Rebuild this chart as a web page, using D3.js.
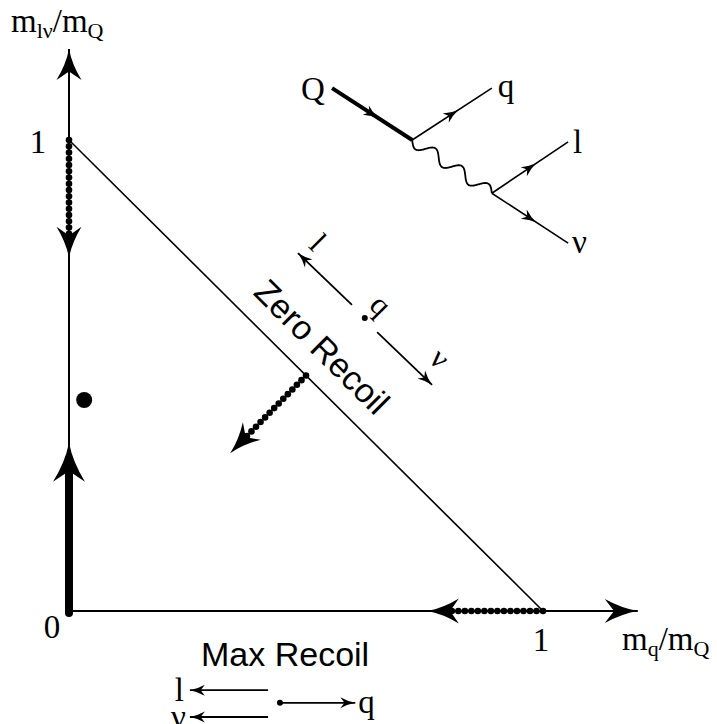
<!DOCTYPE html>
<html>
<head>
<meta charset="utf-8">
<script src="https://cdn.jsdelivr.net/npm/d3@7/dist/d3.min.js"></script>
<style>
body{margin:0;background:#fff}
</style>
</head>
<body>
<svg id="chart" width="717" height="724"></svg>
<script>
// Dalitz-like plane, everything in units of m_Q
var ticks = [0, 1];
var axisMax = [1.2, 1.193];               // arrow tips of the two axes
var edge = [[0, 1], [1, 0]];              // zero recoil line
var heavyArrow = [[0, 0], [0, 0.357]];    // thick arrow up the y axis
var bigDot = [0.032, 0.448];
// dotted chains: start, arrow tip
var chains = [
    [[0, 1], [0, 0.75]],
    [[1, 0], [0.757, 0]],
    [[0.5, 0.5], [0.34, 0.335]]
];
// Feynman graph  Q -> q W,  W -> l nu
var fey = {
    Q: [0.555, 1.110], v1: [0.724, 1.000], q: [0.892, 1.110],
    v2: [0.892, 0.887], l: [1.053, 0.996], nu: [1.053, 0.781]
};
// zero recoil: q at rest, l and nu back to back
var zrDot = [0.624, 0.622];
var zrArrows = [[[0.597, 0.650], [0.483, 0.760]], [[0.650, 0.592], [0.766, 0.480]]];
var zrLabels = [["l", 0.525, 0.783], ["q", 0.658, 0.650], ["ν", 0.783, 0.537]];
// max recoil: l and nu together against q
var mrDot = [0.445, -0.195];
var mrArrows = [[[0.420, -0.168], [0.255, -0.168]], [[0.420, -0.225], [0.255, -0.225]], [[0.445, -0.195], [0.604, -0.195]]];

var svg = d3.select("#chart");
var x = d3.scaleLinear().domain([0, 1]).range([69, 543]);
var y = d3.scaleLinear().domain([0, 1]).range([611, 140]);
var serif = "'Liberation Serif','Times New Roman',serif";
var sans = "'Liberation Sans',Arial,sans-serif";

function P(p) { return [x(p[0]), y(p[1])]; }

// arrow head with concave sides, tip at t, pointing from f to t
function head(f, t, len, wid) {
    var a = Math.atan2(t[1] - f[1], t[0] - f[0]) * 180 / Math.PI;
    var p = "M0,0 Q" + (-len * 0.5) + "," + (-wid * 0.12) + " " + (-len) + "," + (-wid / 2) +
        " L" + (-len * 0.72) + ",0 L" + (-len) + "," + (wid / 2) +
        " Q" + (-len * 0.5) + "," + (wid * 0.12) + " 0,0Z";
    svg.append("path").attr("d", p).attr("fill", "#000")
        .attr("transform", "translate(" + t[0] + "," + t[1] + ") rotate(" + a + ")");
}
function line(a, b, w) {
    svg.append("line").attr("x1", a[0]).attr("y1", a[1]).attr("x2", b[0]).attr("y2", b[1])
        .attr("stroke", "#000").attr("stroke-width", w);
}
// line with arrow in the middle
function midArrow(a, b, w, len, wid) {
    line(a, b, w);
    var dx = b[0] - a[0], dy = b[1] - a[1], d = Math.sqrt(dx * dx + dy * dy);
    var m = [(a[0] + b[0]) / 2 + dx / d * len / 2, (a[1] + b[1]) / 2 + dy / d * len / 2];
    head(a, m, len, wid);
}

// axes
var o = P([0, 0]);
line(o, P([0, axisMax[1]]), 2);
line(o, P([axisMax[0], 0]), 2);
head(o, P([0, axisMax[1]]), 31, 25);
head(o, P([axisMax[0], 0]), 33, 24);

// zero recoil edge
line(P(edge[0]), P(edge[1]), 1.6);

// heavy arrow
var h0 = P(heavyArrow[0]), h1 = P(heavyArrow[1]);
svg.append("line").attr("x1", h0[0]).attr("y1", h0[1] + 2).attr("x2", h1[0]).attr("y2", h1[1] + 30)
    .attr("stroke", "#000").attr("stroke-width", 8).attr("stroke-linecap", "round");
head(h0, h1, 39, 32);

svg.append("circle").attr("cx", x(bigDot[0])).attr("cy", y(bigDot[1])).attr("r", 8).attr("fill", "#000");

// dotted chains
chains.forEach(function (c) {
    var a = P(c[0]), t = P(c[1]);
    var dx = t[0] - a[0], dy = t[1] - a[1], d = Math.sqrt(dx * dx + dy * dy);
    var run = d - 24, n = Math.round(run / 6.3);
    d3.range(n + 1).forEach(function (i) {
        var f = i * run / n / d;
        svg.append("circle").attr("cx", a[0] + dx * f).attr("cy", a[1] + dy * f)
            .attr("r", 3.3).attr("fill", "#000");
    });
    head(a, t, 31, 25);
});

// tick labels
svg.append("text").attr("x", x(0) - 17).attr("y", y(0) + 27).text(ticks[0]);
svg.append("text").attr("x", x(0) - 31).attr("y", y(1) + 13).text(ticks[1]);
svg.append("text").attr("x", x(1) - 2).attr("y", y(0) + 40).text(ticks[1]);
svg.selectAll("text").attr("font-family", serif).attr("font-size", 33).attr("text-anchor", "middle");

// axis titles
var yt = svg.append("text").attr("x", 11).attr("y", 32).attr("font-family", serif).attr("font-size", 33);
yt.append("tspan").text("m");
yt.append("tspan").attr("font-size", 22).attr("dy", 6).text("lν");
yt.append("tspan").attr("dy", -6).text("/m");
yt.append("tspan").attr("font-size", 22).attr("dy", 6).text("Q");
var xt = svg.append("text").attr("x", 622).attr("y", 650).attr("font-family", serif).attr("font-size", 33);
xt.append("tspan").text("m");
xt.append("tspan").attr("font-size", 22).attr("dy", 6).text("q");
xt.append("tspan").attr("dy", -6).text("/m");
xt.append("tspan").attr("font-size", 22).attr("dy", 6).text("Q");

// Feynman graph
var v1 = P(fey.v1), v2 = P(fey.v2);
midArrow(P(fey.Q), v1, 4, 15, 11);
midArrow(v1, P(fey.q), 1.6, 15, 11);
midArrow(v2, P(fey.l), 1.6, 15, 11);
midArrow(v2, P(fey.nu), 1.6, 15, 11);
(function () {
    var dx = v2[0] - v1[0], dy = v2[1] - v1[1], d = Math.sqrt(dx * dx + dy * dy);
    var nx = -dy / d, ny = dx / d;
    var pts = d3.range(0, 201).map(function (i) {
        var f = i / 200, s = 6 * Math.sin(f * Math.PI * 2 * 3);
        return [v1[0] + dx * f + nx * s, v1[1] + dy * f + ny * s];
    });
    svg.append("path").attr("d", d3.line().curve(d3.curveBasis)(pts)).attr("fill", "none")
        .attr("stroke", "#000").attr("stroke-width", 1.8);
})();
function label(t, px, py, anchor) {
    svg.append("text").attr("x", px).attr("y", py).attr("text-anchor", anchor || "start")
        .attr("font-family", serif).attr("font-size", 33).text(t);
}
label("Q", x(fey.Q[0]) - 31, y(fey.Q[1]) + 12);
label("q", x(fey.q[0]) + 6, y(fey.q[1]) + 9);
label("l", x(fey.l[0]) + 5, y(fey.l[1]) + 11);
label("ν", x(fey.nu[0]) + 4, y(fey.nu[1]) + 10);

// zero recoil picture
svg.append("circle").attr("cx", x(zrDot[0])).attr("cy", y(zrDot[1])).attr("r", 3).attr("fill", "#000");
zrArrows.forEach(function (a) {
    var f = P(a[0]), t = P(a[1]);
    line(f, t, 1.8);
    head(f, t, 15, 11);
});
zrLabels.forEach(function (l) {
    svg.append("text").attr("font-family", serif).attr("font-size", 31).attr("text-anchor", "middle")
        .attr("dominant-baseline", "central")
        .attr("transform", "translate(" + x(l[1]) + "," + y(l[2]) + ") rotate(45)").text(l[0]);
});
svg.append("text").attr("font-family", sans).attr("font-size", 34).attr("text-anchor", "middle")
    .attr("dominant-baseline", "central")
    .attr("transform", "translate(" + x(0.534) + "," + y(0.561) + ") rotate(45)").text("Zero Recoil");

// max recoil picture
svg.append("text").attr("x", 201).attr("y", 666).attr("font-family", sans).attr("font-size", 34).text("Max Recoil");
svg.append("circle").attr("cx", x(mrDot[0])).attr("cy", y(mrDot[1])).attr("r", 3).attr("fill", "#000");
mrArrows.forEach(function (a) {
    var f = P(a[0]), t = P(a[1]);
    line(f, t, 1.8);
    head(f, t, 15, 11);
});
label("l", x(mrArrows[0][1][0]) - 6, y(mrArrows[0][1][1]) + 11, "end");
label("ν", x(mrArrows[1][1][0]) - 4, y(mrArrows[1][1][1]) + 11, "end");
label("q", x(mrArrows[2][1][0]) + 3, y(mrArrows[2][1][1]) + 10);
</script>
</body>
</html>
